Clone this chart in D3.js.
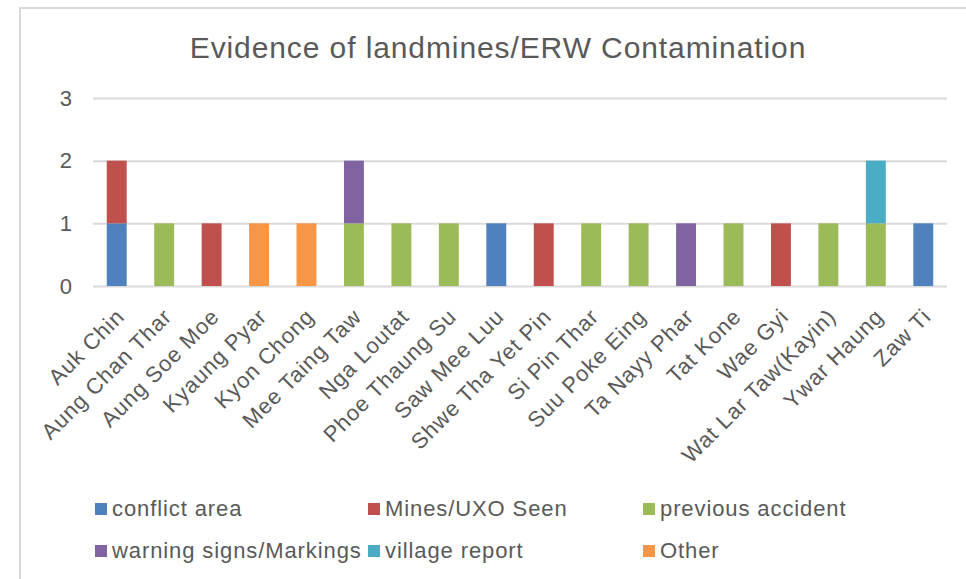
<body style="margin:0">
<script src="https://d3js.org/d3.v7.min.js"></script>
<script>
    const villages = ["Auk Chin", "Aung Chan Thar", "Aung Soe Moe", "Kyaung Pyar", "Kyon Chong",
        "Mee Taing Taw", "Nga Loutat", "Phoe Thaung Su", "Saw Mee Luu", "Shwe Tha Yet Pin",
        "Si Pin Thar", "Suu Poke Eing", "Ta Nayy Phar", "Tat Kone", "Wae Gyi",
        "Wat Lar Taw(Kayin)", "Ywar Haung", "Zaw Ti"];

    const seriesNames = ["conflict area", "Mines/UXO Seen", "previous accident",
        "warning signs/Markings", "village report", "Other"];
    const seriesColors = ["#4F81BD", "#C0504D", "#9BBB59", "#8064A2", "#4BACC6", "#F79646"];

    const conflictArea     = [1, 0, 0, 0, 0, 0, 0, 0, 1, 0, 0, 0, 0, 0, 0, 0, 0, 1];
    const minesSeen        = [1, 0, 1, 0, 0, 0, 0, 0, 0, 1, 0, 0, 0, 0, 1, 0, 0, 0];
    const previousAccident = [0, 1, 0, 0, 0, 1, 1, 1, 0, 0, 1, 1, 0, 1, 0, 1, 1, 0];
    const warningSigns     = [0, 0, 0, 0, 0, 1, 0, 0, 0, 0, 0, 0, 1, 0, 0, 0, 0, 0];
    const villageReport    = [0, 0, 0, 0, 0, 0, 0, 0, 0, 0, 0, 0, 0, 0, 0, 0, 1, 0];
    const other            = [0, 0, 0, 1, 1, 0, 0, 0, 0, 0, 0, 0, 0, 0, 0, 0, 0, 0];

    const yTicks = [0, 1, 2, 3];

    const seriesValues = [conflictArea, minesSeen, previousAccident, warningSigns, villageReport, other];

    const width = 966;
    const height = 579;
    const plotLeft = 93, plotRight = 947, plotTop = 98, plotBottom = 286;
    const textColor = "#595959";
    const font = "'Liberation Sans', Arial, sans-serif";

    const table = villages.map((v, i) => {
        const row = { village: v };
        seriesNames.forEach((s, j) => row[s] = seriesValues[j][i]);
        return row;
    });
    const stacked = d3.stack().keys(seriesNames)(table);

    const xScale = d3.scaleBand()
        .domain(villages)
        .range([plotLeft, plotRight])
        .paddingInner(0.58)
        .paddingOuter(0.29);

    const yScale = d3.scaleLinear()
        .domain([0, 3])
        .range([plotBottom, plotTop]);

    const svg = d3.select("body")
        .append("svg")
        .attr("width", width)
        .attr("height", height)
        .style("font-family", font);

    // chart frame
    svg.append("rect")
        .attr("x", 20)
        .attr("y", 8)
        .attr("width", 1200)
        .attr("height", 1200)
        .attr("fill", "#fff")
        .attr("stroke", "#D9D9D9")
        .attr("stroke-width", 2);

    svg.append("text")
        .attr("x", 498)
        .attr("y", 58)
        .attr("text-anchor", "middle")
        .attr("fill", textColor)
        .style("font-size", "30px")
        .style("letter-spacing", "0.9px")
        .text("Evidence of landmines/ERW Contamination");

    // gridlines + y labels
    const yAxis = d3.axisLeft(yScale)
        .tickValues(yTicks)
        .tickSize(-(plotRight - plotLeft))
        .tickPadding(21)
        .tickFormat(d3.format("d"));

    const gy = svg.append("g")
        .attr("transform", "translate(" + plotLeft + ",0)")
        .call(yAxis);
    gy.select(".domain").remove();
    gy.selectAll("line").attr("stroke", "#D9D9D9").attr("stroke-width", 2);
    gy.selectAll("text")
        .attr("fill", textColor)
        .style("font-size", "22px")
        .style("font-family", font);

    svg.append("g")
        .selectAll("g")
        .data(stacked)
        .enter()
        .append("g")
        .attr("fill", (d, i) => seriesColors[i])
        .selectAll("rect")
        .data(d => d.filter(p => p[1] > p[0]))
        .enter()
        .append("rect")
        .attr("x", p => xScale(p.data.village))
        .attr("y", p => yScale(p[1]))
        .attr("width", xScale.bandwidth())
        .attr("height", p => yScale(p[0]) - yScale(p[1]));

    // x labels
    const xAxis = d3.axisBottom(xScale).tickSize(0).tickPadding(0);
    const gx = svg.append("g")
        .attr("transform", "translate(0," + plotBottom + ")")
        .call(xAxis);
    gx.select(".domain").remove();
    gx.selectAll("text")
        .attr("fill", textColor)
        .style("font-size", "22px")
        .style("font-family", font)
        .style("letter-spacing", "0.9px")
        .attr("text-anchor", "end")
        .attr("dy", null)
        .attr("y", null)
        .attr("transform", "translate(9,32) rotate(-45)");

    // legend
    const legendX = [95, 368, 643];
    const legendY = [516, 558];
    const legend = svg.append("g")
        .selectAll("g")
        .data(seriesNames)
        .enter()
        .append("g")
        .attr("transform", (d, i) => "translate(" + legendX[i % 3] + "," + legendY[Math.floor(i / 3)] + ")");
    legend.append("rect")
        .attr("x", 0)
        .attr("y", -13)
        .attr("width", 12)
        .attr("height", 12)
        .attr("fill", (d, i) => seriesColors[i]);
    legend.append("text")
        .attr("x", 17)
        .attr("y", 0)
        .attr("fill", textColor)
        .style("font-size", "22px")
        .style("letter-spacing", "0.9px")
        .text(d => d);
</script>
</body>
